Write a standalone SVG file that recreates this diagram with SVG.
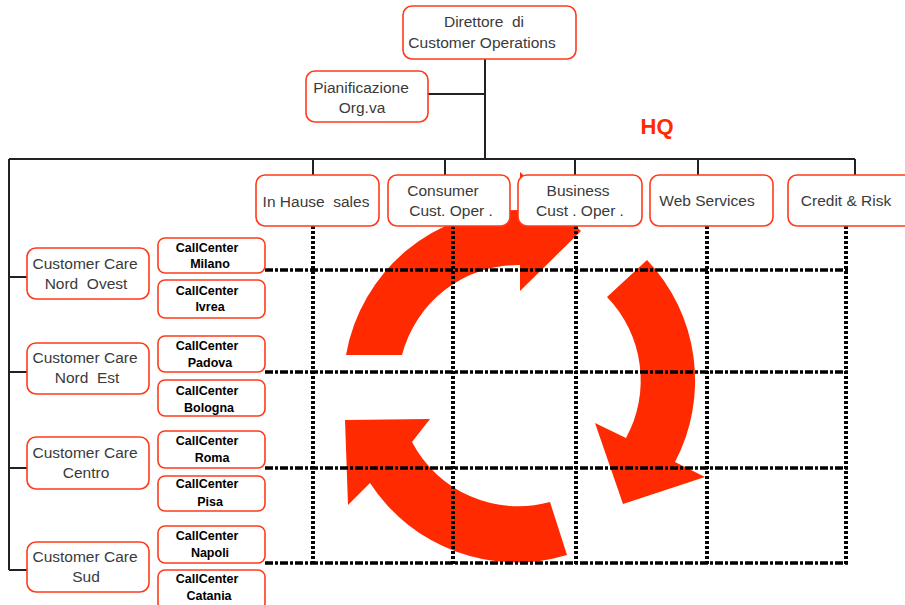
<svg xmlns="http://www.w3.org/2000/svg" width="905" height="605" viewBox="0 0 905 605">
<style>
.box{fill:#fff;stroke:#ff3a1a;stroke-width:1.6}
.t{font-family:"Liberation Sans",Arial,sans-serif;font-size:15.5px;fill:#3a3a3a;text-anchor:middle}
.cc{font-family:"Liberation Sans",Arial,sans-serif;font-size:12.5px;font-weight:bold;fill:#000;text-anchor:middle}
.ln{stroke:#222;stroke-width:2;fill:none}
.gh{stroke:#000;stroke-width:3.5;stroke-dasharray:8 2 3 2;fill:none}
.gv{stroke:#000;stroke-width:4;stroke-dasharray:3 2;fill:none}
.arr{fill:#ff2a00}
</style>
<rect width="905" height="605" fill="#fff"/>
<g id="cycle">
<path class="arr" d="M346,355 A175 175 0 0 1 520,210 L520,172 L581,231 L520,291 L520,265 A120 120 0 0 0 402,355 Z"/>
<path class="arr" d="M647,260 A175 175 0 0 1 675,462 L705,477 L623,504 L595,423 L626,438 A120 120 0 0 0 607,297 Z"/>
<path class="arr" d="M567,555 A175 175 0 0 1 370,483 L348,505 L345,420 L430,419 L412,442 A120 120 0 0 0 550,502 Z"/>
</g>
<g id="grid">
<path class="gh" d="M265,270 H848 M265,372 H848 M265,468 H848 M265,563 H848"/>
<path class="gv" d="M313,226 V565 M453,226 V565 M576,226 V565 M707,226 V565 M846,226 V565"/>
</g>
<g id="connectors">
<path class="ln" d="M485,59 V159 M428,94 H485 M9,159 H855 M313,159 V175 M445,159 V175 M575,159 V175 M698,159 V175 M855,159 V175 M9,159 V570 M9,277 H27 M9,372 H27 M9,468 H27 M9,570 H27"/>
</g>
<g id="hq"><text x="657" y="134" style="font-family:'Liberation Sans',Arial,sans-serif;font-size:22px;font-weight:bold;fill:#ff2a00;text-anchor:middle">HQ</text></g>
<g id="direttore"><rect class="box" x="403" y="6" width="173" height="53" rx="9"/><text class="t" x="484" y="27" xml:space="preserve">Direttore  di</text><text class="t" x="482" y="48">Customer Operations</text></g>
<g id="pianificazione"><rect class="box" x="306" y="71" width="122" height="51" rx="9"/><text class="t" x="361" y="93">Pianificazione</text><text class="t" x="362" y="113">Org.va</text></g>
<g id="inhause"><rect class="box" x="256" y="175" width="123" height="51" rx="9"/><text class="t" x="316" y="207" xml:space="preserve">In Hause  sales</text></g>
<g id="consumer"><rect class="box" x="388" y="175" width="122" height="51" rx="9"/><text class="t" x="443" y="196">Consumer</text><text class="t" x="451" y="216">Cust. Oper .</text></g>
<g id="business"><rect class="box" x="518" y="175" width="124" height="51" rx="9"/><text class="t" x="578" y="196">Business</text><text class="t" x="580" y="216">Cust . Oper .</text></g>
<g id="web"><rect class="box" x="650" y="175" width="123" height="51" rx="9"/><text class="t" x="707" y="206">Web Services</text></g>
<g id="credit"><rect class="box" x="788" y="175" width="125" height="51" rx="9"/><text class="t" x="846" y="206">Credit &amp; Risk</text></g>
<g id="cc-nordovest"><rect class="box" x="27" y="248" width="122" height="51" rx="9"/><text class="t" x="85" y="269">Customer Care</text><text class="t" x="86" y="289" xml:space="preserve">Nord  Ovest</text></g>
<g id="cc-nordest"><rect class="box" x="27" y="343" width="122" height="51" rx="9"/><text class="t" x="85" y="363">Customer Care</text><text class="t" x="87" y="383" xml:space="preserve">Nord  Est</text></g>
<g id="cc-centro"><rect class="box" x="27" y="437" width="122" height="52" rx="9"/><text class="t" x="85" y="458">Customer Care</text><text class="t" x="86" y="478">Centro</text></g>
<g id="cc-sud"><rect class="box" x="27" y="542" width="122" height="50" rx="9"/><text class="t" x="85" y="562">Customer Care</text><text class="t" x="86" y="582">Sud</text></g>
<g id="call-milano"><rect class="box" x="158" y="238" width="107" height="35" rx="7"/><text class="cc" x="207" y="252">CallCenter</text><text class="cc" x="210" y="268">Milano</text></g>
<g id="call-ivrea"><rect class="box" x="158" y="280" width="107" height="38" rx="7"/><text class="cc" x="207" y="295">CallCenter</text><text class="cc" x="210" y="311">Ivrea</text></g>
<g id="call-padova"><rect class="box" x="158" y="336" width="107" height="36" rx="7"/><text class="cc" x="207" y="350">CallCenter</text><text class="cc" x="210" y="367">Padova</text></g>
<g id="call-bologna"><rect class="box" x="158" y="380" width="107" height="36" rx="7"/><text class="cc" x="207" y="395">CallCenter</text><text class="cc" x="209" y="412">Bologna</text></g>
<g id="call-roma"><rect class="box" x="158" y="431" width="107" height="37" rx="7"/><text class="cc" x="207" y="445">CallCenter</text><text class="cc" x="212" y="462">Roma</text></g>
<g id="call-pisa"><rect class="box" x="158" y="476" width="107" height="35" rx="7"/><text class="cc" x="207" y="488">CallCenter</text><text class="cc" x="210" y="506">Pisa</text></g>
<g id="call-napoli"><rect class="box" x="158" y="526" width="107" height="37" rx="7"/><text class="cc" x="207" y="540">CallCenter</text><text class="cc" x="210" y="557">Napoli</text></g>
<g id="call-catania"><rect class="box" x="158" y="570" width="107" height="40" rx="7"/><text class="cc" x="207" y="583">CallCenter</text><text class="cc" x="209" y="600">Catania</text></g>
</svg>
